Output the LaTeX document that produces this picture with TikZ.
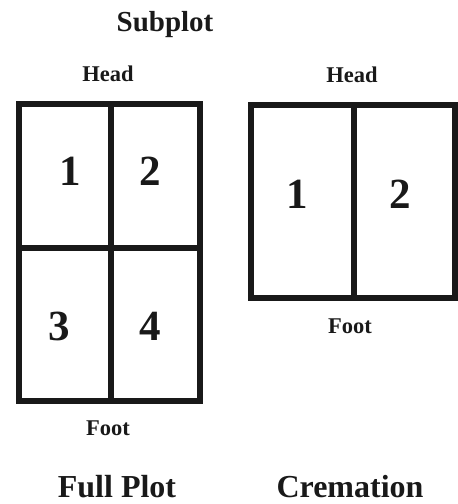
\documentclass[tikz,border=0pt]{standalone}
\usepackage{fontspec}
\setmainfont{Liberation Serif}
\begin{document}
\begin{tikzpicture}[x=1pt,y=-1pt,
  cell/.style={draw=black!90, line width=6pt, inner sep=0pt, anchor=north west},
  title/.style={anchor=base, inner sep=0pt, font=\fontsize{32}{38}\selectfont\bfseries, text=black!90},
  lbl/.style={anchor=base, inner sep=0pt, font=\fontsize{22.5}{27}\selectfont\bfseries, text=black!90},
  num/.style={anchor=base, inner sep=0pt, font=\fontsize{43}{50}\selectfont\bfseries, text=black!90}]
\useasboundingbox (0,0) rectangle (458,504);
% Full plot
\node[cell, minimum width=92pt, minimum height=144pt] (f1) at (16,101) {};
\node[cell, minimum width=89pt, minimum height=144pt] (f2) at (108,101) {};
\node[cell, minimum width=92pt, minimum height=153pt] (f3) at (16,245) {};
\node[cell, minimum width=89pt, minimum height=153pt] (f4) at (108,245) {};
% Cremation
\node[cell, minimum width=103pt, minimum height=193pt] (c1) at (248,102) {};
\node[cell, minimum width=101pt, minimum height=193pt] (c2) at (351,102) {};
% texts
\node[title, font=\fontsize{29}{35}\selectfont\bfseries] (sub) at (165,31) {Subplot};
\node[lbl] (fh) at (108,81) {Head};
\node[lbl] (ff) at (108,435) {Foot};
\node[title] (ft) at (117,497) {Full Plot};
\node[lbl] (ch) at (352,82) {Head};
\node[lbl] (cf) at (350,333) {Foot};
\node[title] (ct) at (350,497) {Cremation};
\node[num] (n1) at (70,185) {1};
\node[num] (n2) at (150,185) {2};
\node[num] (n3) at (59,340) {3};
\node[num] (n4) at (150,340) {4};
\node[num] (m1) at (297,208) {1};
\node[num] (m2) at (400,208) {2};
\end{tikzpicture}
\end{document}
